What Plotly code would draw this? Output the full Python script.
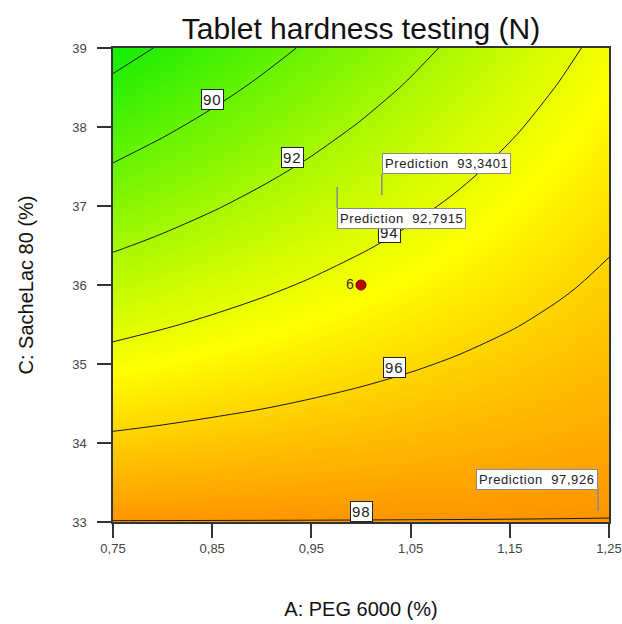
import plotly.graph_objects as go

# ---- response surface: Tablet hardness (N) over PEG 6000 (A) and SacheLac 80 (C)
peg_levels = [0.75, 0.80, 0.85, 0.90, 0.95, 1.00, 1.05, 1.10, 1.15, 1.20, 1.25]
sachelac_levels = [33.0, 33.5, 34.0, 34.5, 35.0, 35.5, 36.0, 36.5, 37.0, 37.5, 38.0, 38.5, 39.0]

# hardness values, one row per SacheLac 80 level (bottom to top), one column per PEG level
hardness = [
    [98.03, 98.03, 98.03, 98.03, 98.03, 98.03, 98.03, 98.03, 98.03, 98.03, 98.03],
    [97.15, 97.21, 97.26, 97.32, 97.38, 97.44, 97.50, 97.55, 97.61, 97.67, 97.73],
    [96.26, 96.38, 96.50, 96.61, 96.73, 96.84, 96.96, 97.08, 97.19, 97.31, 97.42],
    [95.38, 95.55, 95.73, 95.90, 96.08, 96.25, 96.42, 96.60, 96.77, 96.95, 97.12],
    [94.50, 94.73, 94.96, 95.19, 95.42, 95.66, 95.89, 96.12, 96.35, 96.59, 96.82],
    [93.61, 93.90, 94.19, 94.48, 94.77, 95.06, 95.35, 95.64, 95.93, 96.22, 96.51],
    [92.73, 93.08, 93.43, 93.77, 94.12, 94.47, 94.82, 95.17, 95.51, 95.86, 96.21],
    [91.85, 92.25, 92.66, 93.07, 93.47, 93.88, 94.28, 94.69, 95.10, 95.50, 95.91],
    [90.96, 91.43, 91.89, 92.36, 92.82, 93.28, 93.75, 94.21, 94.68, 95.14, 95.60],
    [90.08, 90.60, 91.12, 91.65, 92.17, 92.69, 93.21, 93.73, 94.26, 94.78, 95.30],
    [89.20, 89.78, 90.36, 90.94, 91.52, 92.10, 92.68, 93.26, 93.84, 94.42, 95.00],
    [88.31, 88.95, 89.59, 90.23, 90.87, 91.50, 92.14, 92.78, 93.42, 94.06, 94.69],
    [87.43, 88.13, 88.82, 89.52, 90.21, 90.91, 91.61, 92.30, 93.00, 93.69, 94.39],
]

contour_start, contour_end, contour_step = 88, 98, 2
labelled_levels = [90, 92, 94, 96, 98]

# design centre point and its number of replicates
centre_peg = [1.00]
centre_sachelac = [36.0]
centre_reps = [6]

# point predictions flagged on the plot
pred_peg = [0.976, 1.021, 1.239]
pred_sachelac = [37.24, 37.14, 33.14]
pred_value = [92.7915, 93.3401, 97.926]

x_ticks = [0.75, 0.85, 0.95, 1.05, 1.15, 1.25]
x_ticktext = ["0,75", "0,85", "0,95", "1,05", "1,15", "1,25"]
y_ticks = [33, 34, 35, 36, 37, 38, 39]
y_ticktext = ["33", "34", "35", "36", "37", "38", "39"]

# ---- styling / placement
FONT = "Arial, Liberation Sans, sans-serif"
colorscale = [[0.0, "rgb(5,236,5)"], [0.49, "rgb(255,255,0)"], [1.0, "rgb(255,0,0)"]]
zmin, zmax = 87.0, 102.7
# where each contour level's tag sits on its line (A, C)
level_tag_spots = {90: (0.850, 38.35), 92: (0.931, 37.61), 94: (1.029, 36.67),
                   96: (1.034, 34.95), 98: (1.000, 33.13)}
# flag layout per prediction: anchor side of the box and leader direction (+1 up, -1 down)
flag_style = [("left", -1), ("left", 1), ("right", 1)]
LEADER = 21

fig = go.Figure()

fig.add_trace(go.Heatmap(
    x=peg_levels, y=sachelac_levels, z=hardness,
    zsmooth="best", colorscale=colorscale, zmin=zmin, zmax=zmax,
    showscale=False, hoverinfo="skip",
))

fig.add_trace(go.Contour(
    x=peg_levels, y=sachelac_levels, z=hardness,
    contours=dict(start=contour_start, end=contour_end, size=contour_step,
                  coloring="none", showlabels=False),
    line=dict(color="#1a1a1a", width=1, smoothing=1.0),
    showscale=False, hoverinfo="skip",
))

fig.add_trace(go.Scatter(
    x=centre_peg, y=centre_sachelac, mode="markers+text",
    text=[str(n) for n in centre_reps], textposition="middle left",
    textfont=dict(family=FONT, size=14, color="#333333"),
    marker=dict(color="#c00000", size=10, line=dict(color="#700000", width=1)),
    hoverinfo="skip", showlegend=False,
))

annotations = []
for lvl in labelled_levels:
    ax, cy = level_tag_spots[lvl]
    annotations.append(dict(
        x=ax, y=cy, xref="x", yref="y",
        text='<span style="letter-spacing:1px">' + str(lvl) + "</span>", showarrow=False,
        font=dict(family=FONT, size=15, color="#222222"),
        bgcolor="white", bordercolor="#222222", borderwidth=1, borderpad=1,
    ))

shapes = []
for a, c, v, (side, direction) in zip(pred_peg, pred_sachelac, pred_value, flag_style):
    shapes.append(dict(
        type="line", xref="x", yref="y", xsizemode="pixel", ysizemode="pixel",
        xanchor=a, yanchor=c, x0=0, x1=0, y0=0, y1=direction * LEADER,
        line=dict(color="#8a8a8a", width=1.5),
    ))
    annotations.append(dict(
        x=a, y=c, xref="x", yref="y", showarrow=False,
        text='<span style="letter-spacing:0.6px">Prediction\u00a0\u00a0'
             + str(v).replace(".", ",") + "</span>",
        xanchor=side, yanchor="bottom" if direction > 0 else "top",
        yshift=direction * LEADER,
        font=dict(family=FONT, size=13, color="#222222"),
        bgcolor="white", bordercolor="#8a8a8a", borderwidth=1, borderpad=2,
    ))

axis_common = dict(
    showline=True, linecolor="#333333", linewidth=1.5, mirror=True,
    ticks="outside", ticklen=14, tickwidth=1.5, tickcolor="#333333",
    showgrid=False, zeroline=False, automargin=False,
    tickfont=dict(family=FONT, size=13, color="#444444"),
)

fig.update_layout(
    width=622, height=624,
    margin=dict(l=113, r=13, t=48, b=102),
    paper_bgcolor="white", plot_bgcolor="white",
    title=dict(text="Tablet hardness testing (N)", x=0.5, xref="paper",
               y=1 - 28 / 624, yref="container", yanchor="middle",
               font=dict(family=FONT, size=30, color="#111111")),
    xaxis=dict(range=[0.75, 1.25], tickmode="array", tickvals=x_ticks, ticktext=x_ticktext,
               title=dict(text="A: PEG 6000 (%)", standoff=47,
                          font=dict(family=FONT, size=20, color="#111111")),
               **axis_common),
    yaxis=dict(range=[33, 39], tickmode="array", tickvals=y_ticks, ticktext=y_ticktext,
               ticklabelstandoff=8,
               title=dict(text="C: SacheLac 80 (%)", standoff=33,
                          font=dict(family=FONT, size=20, color="#111111")),
               **axis_common),
    annotations=annotations,
    shapes=shapes,
    showlegend=False,
)

fig.write_html("out.html")
